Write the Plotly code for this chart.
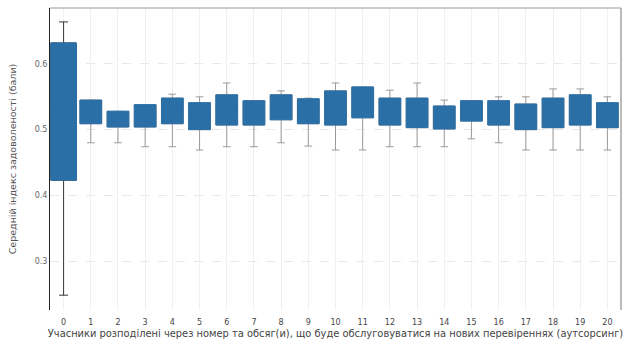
import plotly.graph_objects as go

# Participant groups (x categories)
groups = [str(i) for i in range(21)]

# Box statistics per group
q1 = [0.423, 0.509, 0.504, 0.504, 0.509, 0.500, 0.507, 0.507, 0.515, 0.509, 0.507,
      0.518, 0.507, 0.503, 0.501, 0.513, 0.507, 0.500, 0.503, 0.507, 0.503]
q3 = [0.632, 0.545, 0.528, 0.538, 0.548, 0.541, 0.553, 0.544, 0.553, 0.547, 0.559,
      0.565, 0.548, 0.548, 0.536, 0.544, 0.544, 0.539, 0.548, 0.553, 0.541]
median = [0.530, 0.528, 0.516, 0.521, 0.530, 0.521, 0.531, 0.526, 0.535, 0.529, 0.533,
          0.542, 0.528, 0.526, 0.519, 0.529, 0.526, 0.520, 0.526, 0.531, 0.522]
lower = [0.248, 0.480, 0.480, 0.474, 0.474, 0.469, 0.474, 0.474, 0.480, 0.475, 0.469,
         0.469, 0.474, 0.474, 0.474, 0.486, 0.480, 0.469, 0.469, 0.469, 0.469]
upper = [0.664, 0.545, 0.528, 0.538, 0.554, 0.550, 0.571, 0.544, 0.559, 0.548, 0.571,
         0.565, 0.560, 0.571, 0.545, 0.544, 0.550, 0.550, 0.562, 0.562, 0.550]

y_ticks = [0.3, 0.4, 0.5, 0.6]

BOX_BLUE = "#2a6fa6"

fig = go.Figure()

for i, g in enumerate(groups):
    w = 0.94 if i == 0 else 0.8
    # Whiskers and caps
    fig.add_trace(go.Box(
        x=[g], q1=[q1[i]], median=[median[i]], q3=[q3[i]],
        lowerfence=[lower[i]], upperfence=[upper[i]],
        width=w, whiskerwidth=0.35,
        line=dict(color="#333333" if i == 0 else "#9a9a9a", width=1),
        fillcolor="rgba(0,0,0,0)",
        boxpoints=False, showlegend=False, hoverinfo="skip",
    ))
    # Solid interquartile box drawn on top
    fig.add_trace(go.Box(
        x=[g], q1=[q1[i]], median=[median[i]], q3=[q3[i]],
        lowerfence=[q1[i]], upperfence=[q3[i]],
        width=w, whiskerwidth=0,
        line=dict(color=BOX_BLUE, width=1),
        fillcolor=BOX_BLUE,
        boxpoints=False, showlegend=False,
    ))

fig.update_layout(
    width=641, height=339,
    margin=dict(l=50, r=20, t=8, b=29),
    paper_bgcolor="white", plot_bgcolor="white",
    boxmode="overlay",
    font=dict(family="DejaVu Sans", size=8, color="#555555"),
    xaxis=dict(
        type="category", categoryorder="array", categoryarray=groups,
        range=[-0.5, 20.5],
        showgrid=True, gridcolor="#f0f0f0", gridwidth=1,
        showline=False, ticks="", zeroline=False,
        ticklabelstandoff=6,
        tickfont=dict(size=8, color="#444444"),
        title=dict(
            text="Учасники розподілені через номер та обсяг(и), що буде обслуговуватися на нових перевіреннях (аутсорсинг)",
            font=dict(size=9.9, color="#444444"), standoff=4,
        ),
        automargin=False,
    ),
    yaxis=dict(
        range=[0.2254, 0.6852],
        tickvals=y_ticks, ticktext=[f"{v:.1f}" for v in y_ticks],
        showgrid=True, gridcolor="#e8e8e8", griddash="dash", gridwidth=1,
        zeroline=False,
        showline=True, linecolor="#222222", linewidth=1,
        ticks="", tickfont=dict(size=8, color="#666666"),
        title=dict(text="Середній індекс задоволеності (бали)",
                   font=dict(size=9.5, color="#555555"), standoff=16),
        automargin=False,
    ),
)

# Top and right frame lines
fig.add_shape(type="line", xref="paper", yref="paper", x0=0, x1=1, y0=1, y1=1,
              line=dict(color="#999999", width=1))
fig.add_shape(type="line", xref="paper", yref="paper", x0=1, x1=1, y0=0, y1=1,
              line=dict(color="#777777", width=1))

fig.write_html("out.html")
